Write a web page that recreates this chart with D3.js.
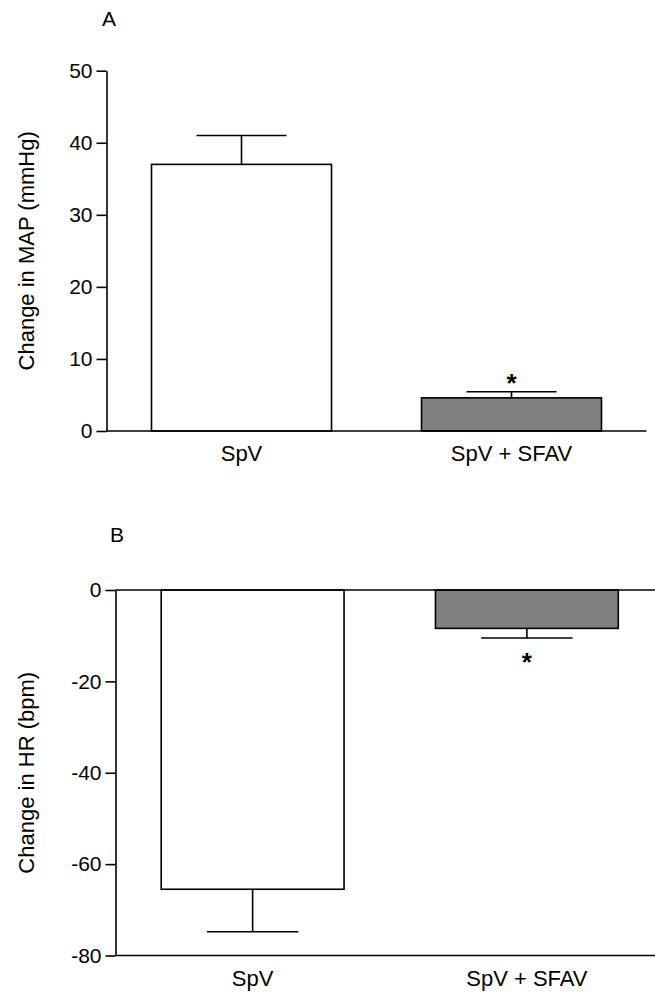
<!DOCTYPE html>
<html>
<head>
<meta charset="utf-8">
<script src="https://cdn.jsdelivr.net/npm/d3@7"></script>
<style>
  body { margin: 0; background: #fff; }
  svg text { font-family: "Liberation Sans", Arial, sans-serif; fill: #000; }
</style>
</head>
<body>
<svg id="chart" width="655" height="994"></svg>
<script>
var categories = ['SpV', 'SpV + SFAV'];

// panel A: change in MAP (mmHg), mean and mean + SEM
var mapValues = [37.0, 4.6],
  mapErrors = [41.0, 5.45],
  mapTicks = [0, 10, 20, 30, 40, 50];

// panel B: change in HR (bpm)
var hrValues = [-65.5, -8.4],
  hrErrors = [-74.8, -10.5],
  hrTicks = [-80, -60, -40, -20, 0];

var starred = [false, true];
var fills = ['#ffffff', '#808080'];

var svg = d3.select('#chart');

function drawPanel(opt) {
  var g = svg.append('g');

  var x = d3.scaleBand()
    .domain(categories)
    .range(opt.xRange)
    .paddingInner(1 / 3)
    .paddingOuter(1 / 6);

  var y = d3.scaleLinear()
    .domain(opt.yDomain)
    .range(opt.yRange);

  var rows = categories.map(function(c, i) {
    return { cat: c, v: opt.values[i], e: opt.errors[i], star: starred[i], fill: fills[i] };
  });

  // panel letter
  g.append('text')
    .attr('x', opt.letterX)
    .attr('y', opt.letterY)
    .style('font-size', '21px')
    .text(opt.letter);

  // bars
  g.selectAll('rect.bar')
    .data(rows).enter()
    .append('rect')
    .attr('class', 'bar')
    .attr('x', function(d) { return x(d.cat); })
    .attr('y', function(d) { return Math.min(y(d.v), y(0)); })
    .attr('width', x.bandwidth())
    .attr('height', function(d) { return Math.abs(y(d.v) - y(0)); })
    .attr('fill', function(d) { return d.fill; })
    .attr('stroke', '#000')
    .attr('stroke-width', 1.6);

  // error bars (one-sided)
  var eb = g.selectAll('g.err')
    .data(rows).enter()
    .append('g')
    .attr('class', 'err')
    .attr('stroke', '#000')
    .attr('stroke-width', 1.6);
  eb.append('line')
    .attr('x1', function(d) { return x(d.cat) + x.bandwidth() / 2; })
    .attr('x2', function(d) { return x(d.cat) + x.bandwidth() / 2; })
    .attr('y1', function(d) { return y(d.v); })
    .attr('y2', function(d) { return y(d.e); });
  eb.append('line')
    .attr('x1', function(d) { return x(d.cat) + x.bandwidth() / 4; })
    .attr('x2', function(d) { return x(d.cat) + x.bandwidth() * 3 / 4; })
    .attr('y1', function(d) { return y(d.e); })
    .attr('y2', function(d) { return y(d.e); });

  // significance stars
  g.selectAll('text.star')
    .data(rows.filter(function(d) { return d.star; })).enter()
    .append('text')
    .attr('class', 'star')
    .attr('x', function(d) { return x(d.cat) + x.bandwidth() / 2; })
    .attr('y', function(d) { return y(d.e) + opt.starOffset; })
    .attr('text-anchor', 'middle')
    .style('font-size', '26px')
    .style('font-weight', 'bold')
    .text('*');

  // horizontal axis lines
  opt.hLines.forEach(function(v) {
    g.append('line')
      .attr('x1', opt.xRange[0])
      .attr('x2', opt.xRange[1])
      .attr('y1', y(v))
      .attr('y2', y(v))
      .attr('stroke', '#000')
      .attr('stroke-width', 1.6);
  });

  // y axis, plain hyphen for negatives
  var yAxis = g.append('g')
    .attr('transform', 'translate(' + opt.xRange[0] + ',0)')
    .call(d3.axisLeft(y)
      .tickValues(opt.ticks)
      .tickFormat(function(d) { return String(d); })
      .tickSize(10).tickSizeOuter(0).tickPadding(4));
  yAxis.selectAll('path, line').attr('stroke', '#000').attr('stroke-width', 1.6);
  yAxis.selectAll('text')
    .style('font-size', '21px')
    .style('font-family', '"Liberation Sans", Arial, sans-serif')
    .attr('fill', '#000');

  // category labels
  g.selectAll('text.cat')
    .data(categories).enter()
    .append('text')
    .attr('class', 'cat')
    .attr('x', function(d) { return x(d) + x.bandwidth() / 2; })
    .attr('y', y(opt.yDomain[0]) + 30)
    .attr('text-anchor', 'middle')
    .style('font-size', '22px')
    .text(function(d) { return d; });

  // y title
  g.append('text')
    .attr('transform', 'translate(33.5,' + (opt.yRange[0] + opt.yRange[1]) / 2 + ') rotate(-90)')
    .attr('text-anchor', 'middle')
    .style('font-size', '22px')
    .text(opt.title);
}

drawPanel({
  letter: 'A', letterX: 102, letterY: 26,
  values: mapValues, errors: mapErrors, ticks: mapTicks,
  yDomain: [0, 50], yRange: [431, 70.7],
  xRange: [106.5, 646.5],
  hLines: [0],
  starOffset: 0,
  title: 'Change in MAP (mmHg)'
});

drawPanel({
  letter: 'B', letterX: 110, letterY: 541.5,
  values: hrValues, errors: hrErrors, ticks: hrTicks,
  yDomain: [-80, 0], yRange: [955.5, 590],
  xRange: [115.5, 664],
  hLines: [0, -80],
  starOffset: 33,
  title: 'Change in HR (bpm)'
});
</script>
</body>
</html>
